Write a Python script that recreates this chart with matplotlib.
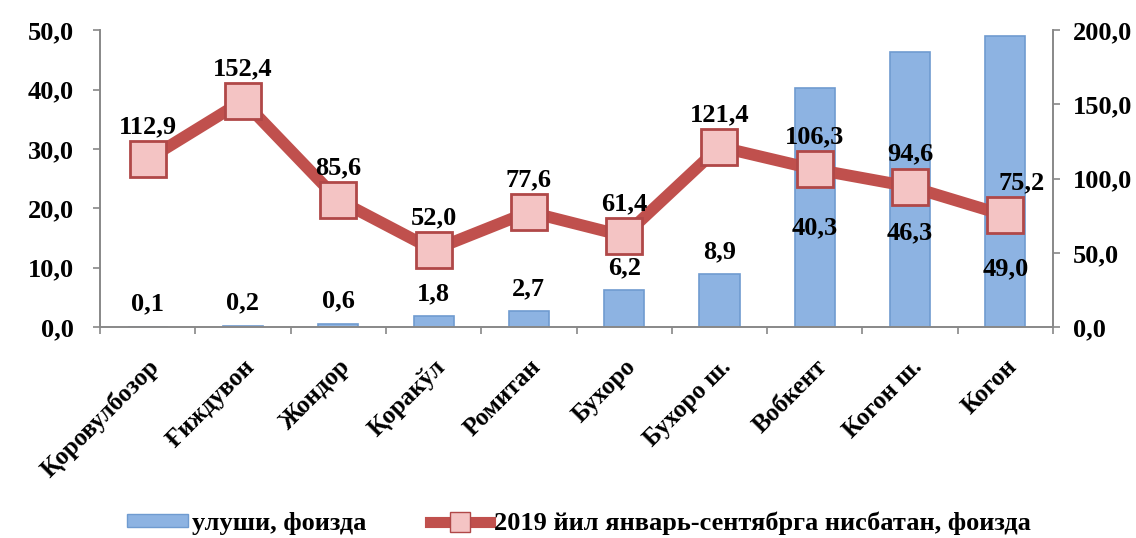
import numpy as np
import matplotlib
matplotlib.use("Agg")
from matplotlib import pyplot as plt
from matplotlib.patches import Patch
from matplotlib.lines import Line2D

plt.rcParams['font.family'] = ['Liberation Serif', 'DejaVu Serif']
plt.rcParams['font.weight'] = 'bold'

# data
districts = ['Қоровулбозор', 'Ғиждувон', 'Жондор', 'Қоракўл', 'Ромитан',
             'Бухоро', 'Бухоро ш.', 'Вобкент', 'Когон ш.', 'Когон']
share = [0.1, 0.2, 0.6, 1.8, 2.7, 6.2, 8.9, 40.3, 46.3, 49.0]
ratio_2019 = [112.9, 152.4, 85.6, 52.0, 77.6, 61.4, 121.4, 106.3, 94.6, 75.2]

share_name = 'улуши, фоизда'
ratio_name = '2019 йил январь-сентябрга нисбатан, фоизда'

def fmt(v):
    return f'{v:.1f}'.replace('.', ',')

FS = 19

fig = plt.figure(figsize=(11.36, 5.38), dpi=100)
ax = fig.add_axes([0.088, 0.392, 0.839, 0.552])
ax2 = ax.twinx()

x = np.arange(len(districts))
bar_col = '#8db3e2'
line_col = '#c0504d'

ax.bar(x, share, width=0.42, color=bar_col, edgecolor='#6f9bd0', linewidth=1.2, zorder=2)
ax2.plot(x, ratio_2019, color=line_col, linewidth=8.5, zorder=3,
         marker='s', markersize=26, markerfacecolor='#f4c4c4',
         markeredgecolor='#b04848', markeredgewidth=2)

ax.set_xlim(-0.5, len(districts) - 0.5)
ax.set_ylim(0, 50)
ax2.set_ylim(0, 200)
ax.set_yticks(np.arange(0, 51, 10))
ax2.set_yticks(np.arange(0, 201, 50))
ax.set_yticklabels([fmt(v) for v in np.arange(0, 51, 10)])
ax2.set_yticklabels([fmt(v) for v in np.arange(0, 201, 50)])

ax.set_xticks(x)
ax.set_xticklabels(districts, rotation=45, ha='right', rotation_mode='anchor')
ax.set_xticks(np.arange(-0.5, len(districts), 1), minor=True)
ax.tick_params(axis='x', which='major', length=0, pad=20, labelsize=18)
ax.tick_params(axis='x', which='minor', length=5, color='#888888', width=1.2)

for a in (ax, ax2):
    for s in a.spines.values():
        s.set_color('#888888')
        s.set_linewidth(1.2)
    a.spines['top'].set_visible(False)
    a.tick_params(axis='y', length=5, color='#888888', width=1.2, labelsize=FS)
ax.tick_params(axis='y', pad=14)
ax2.tick_params(axis='y', pad=9)

# bar labels
for i, v in enumerate(share):
    if v < 20:
        ax.annotate(fmt(v), (i, v), xytext=(0, 8), textcoords='offset points',
                    ha='center', va='bottom', fontsize=FS, fontweight='bold', zorder=5)
inside_y = {7: 16.8, 8: 15.8, 9: 9.8}
for i, yv in inside_y.items():
    ax2.text(i, yv * 4, fmt(share[i]), ha='center', va='center',
             fontsize=FS, fontweight='bold', zorder=5)

# line labels
for i, v in enumerate(ratio_2019):
    dx = 12 if i == 9 else 0
    ax2.annotate(fmt(v), (i, v), xytext=(dx, 15), textcoords='offset points',
                 ha='center', va='bottom', fontsize=FS, fontweight='bold', zorder=5)

handles = [Patch(facecolor=bar_col, edgecolor='#6f9bd0', label=share_name),
           Line2D([0], [0], color=line_col, linewidth=8, marker='s', markersize=15,
                  markerfacecolor='#f4c4c4', markeredgecolor='#b04848', label=ratio_name)]
fig.legend(handles=handles, loc='center', bbox_to_anchor=(0.51, 0.028), ncol=2,
           frameon=False, handlelength=2.3, handleheight=0.4, columnspacing=2.4,
           handletextpad=0.15, prop={'weight': 'bold', 'size': FS})

fig.savefig('out.png', dpi=100)
